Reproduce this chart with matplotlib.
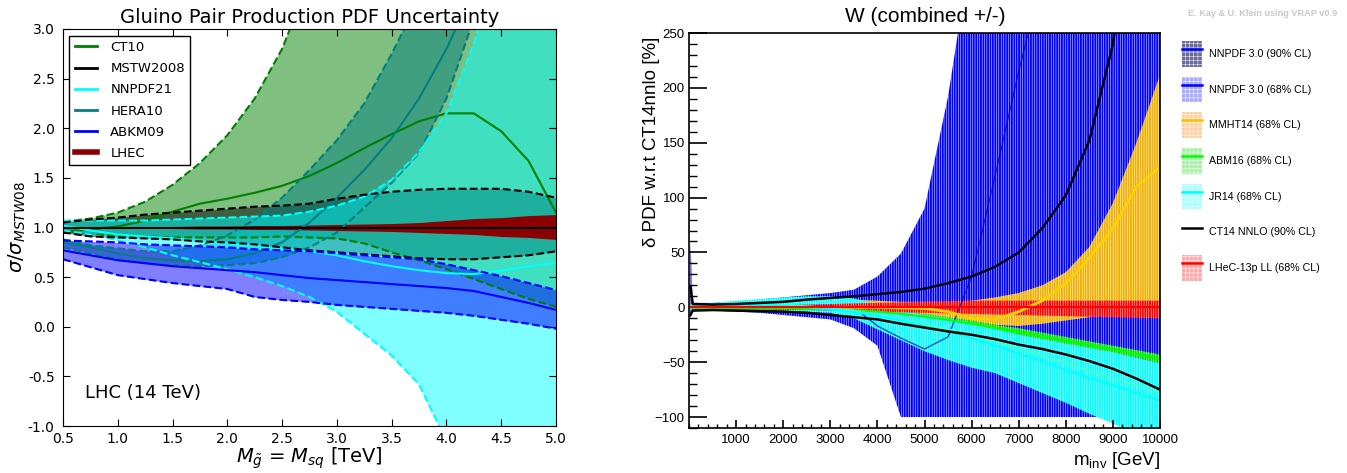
import numpy as np
import matplotlib
matplotlib.use("Agg")
import matplotlib.pyplot as plt
from matplotlib.patches import Patch
from matplotlib.lines import Line2D
from matplotlib.ticker import MultipleLocator, FormatStrFormatter

# ---------------- left panel: gluino pair production, ratio to MSTW2008 ----------------
mass = [0.5, 0.75, 1.0, 1.25, 1.5, 1.75, 2.0, 2.25, 2.5, 2.75,
        3.0, 3.25, 3.5, 3.75, 4.0, 4.25, 4.5, 4.75, 5.0]

ct10_c = [0.96, 0.98, 1.01, 1.07, 1.16, 1.24, 1.29, 1.35, 1.42, 1.52,
          1.65, 1.80, 1.94, 2.07, 2.15, 2.15, 1.97, 1.67, 1.15]
ct10_hi = [1.06, 1.09, 1.15, 1.26, 1.43, 1.65, 1.93, 2.30, 2.80, 3.50,
           4.30, 5.20, 6.20, 7.20, 8.20, 9.20, 10.2, 11.2, 12.2]
ct10_lo = [0.95, 0.93, 0.92, 0.91, 0.90, 0.90, 0.90, 0.90, 0.91, 0.90,
           0.89, 0.84, 0.75, 0.67, 0.58, 0.48, 0.38, 0.28, 0.20]

mstw_c = [1.0, 1.0, 1.0, 1.0, 1.0, 1.0, 1.0, 1.0, 1.0, 1.0,
          1.0, 1.0, 1.0, 1.0, 1.0, 1.0, 1.0, 1.0, 1.0]
mstw_hi = [1.05, 1.08, 1.10, 1.13, 1.15, 1.17, 1.19, 1.21, 1.22, 1.24,
           1.29, 1.33, 1.36, 1.38, 1.39, 1.39, 1.39, 1.36, 1.30]
mstw_lo = [0.95, 0.91, 0.90, 0.89, 0.88, 0.86, 0.85, 0.83, 0.80, 0.77,
           0.75, 0.73, 0.71, 0.69, 0.68, 0.68, 0.70, 0.72, 0.76]

nnpdf_c = [1.02, 0.97, 0.93, 0.91, 0.89, 0.865, 0.84, 0.815, 0.79, 0.76,
           0.72, 0.66, 0.61, 0.57, 0.54, 0.53, 0.565, 0.61, 0.645]
nnpdf_hi = [1.07, 1.07, 1.07, 1.07, 1.08, 1.09, 1.10, 1.11, 1.12, 1.16,
            1.22, 1.31, 1.48, 1.76, 2.15, 2.85, 3.80, 4.80, 6.00]
nnpdf_lo = [0.97, 0.93, 0.87, 0.80, 0.72, 0.65, 0.58, 0.50, 0.41, 0.30,
            0.15, -0.07, -0.29, -0.58, -1.15, -2.0, -3.0, -4.0, -5.0]

hera_c = [0.85, 0.80, 0.74, 0.69, 0.67, 0.66, 0.68, 0.74, 0.85, 1.05,
          1.30, 1.58, 1.90, 2.30, 2.80, 3.40, 4.00, 4.60, 5.20]
hera_hi = [0.88, 0.82, 0.79, 0.76, 0.76, 0.82, 0.92, 1.08, 1.30, 1.58,
           1.88, 2.25, 2.75, 3.30, 4.00, 4.80, 5.60, 6.40, 7.20]
hera_lo = [0.80, 0.74, 0.68, 0.64, 0.62, 0.61, 0.62, 0.64, 0.70, 0.80,
           0.95, 1.20, 1.45, 1.75, 2.30, 3.10, 4.00, 4.80, 5.60]

abkm_c = [0.77, 0.72, 0.67, 0.64, 0.61, 0.59, 0.57, 0.55, 0.52, 0.49,
          0.47, 0.45, 0.43, 0.41, 0.39, 0.36, 0.30, 0.24, 0.17]
abkm_hi = [0.87, 0.86, 0.85, 0.83, 0.82, 0.81, 0.80, 0.78, 0.77, 0.76,
           0.74, 0.72, 0.70, 0.68, 0.63, 0.57, 0.51, 0.44, 0.37]
abkm_lo = [0.68, 0.60, 0.52, 0.48, 0.44, 0.41, 0.38, 0.30, 0.27, 0.25,
           0.22, 0.20, 0.18, 0.16, 0.14, 0.11, 0.07, 0.03, -0.02]

lhec_hi = [1.01, 1.01, 1.01, 1.01, 1.01, 1.015, 1.015, 1.02, 1.02, 1.025,
           1.03, 1.035, 1.04, 1.05, 1.07, 1.09, 1.10, 1.12, 1.13]
lhec_lo = [0.99, 0.99, 0.99, 0.99, 0.99, 0.985, 0.985, 0.98, 0.98, 0.975,
           0.97, 0.965, 0.96, 0.95, 0.94, 0.93, 0.91, 0.90, 0.88]

# ---------------- right panel: W (combined +/-), deviation wrt CT14nnlo ----------------
m_inv = [30, 80, 500, 1000, 1500, 2000, 2500, 3000, 3500, 4000, 4500,
         5000, 5500, 6000, 6500, 7000, 7500, 8000, 8500, 9000, 9500, 10000]

nnpdf30_hi = [60, 4, 4, 5, 7, 9, 11, 13, 16, 28, 49,
              90, 192, 330, 420, 480, 520, 560, 600, 640, 680, 720]
nnpdf30_lo = [-10, -3, -3, -4, -5, -7, -9, -11, -19, -35, -100,
              -100, -100, -100, -100, -100, -100, -100, -100, -100, -100, -100]
nnpdf30_c = [0, 0, 0, 0, 0, 1, 1, 1, 0, -17, -28,
             -38, -27, 28, 120, 215, 300, 380, 450, 520, 590, 660]

mmht_hi = [1, 1, 2, 3, 4, 5, 6, 7, 7, 6, 5,
           5, 5, 6, 9, 13, 20, 32, 55, 95, 150, 212]
mmht_lo = [-1, -1, -1, -1, -1.5, -2, -2, -3, -3, -4, -5,
           -7, -10, -13, -16, -17, -15, -12, -9, -6, -4, -3]
mmht_c = [0, 0, 0, 0, 0, 0, 0, 0, 0, 0, -0.5,
          -1, -4, -10, -11, -4, 6, 22, 45, 72, 110, 128]

abm_hi = [0, 0, 0, 0, 0, 0, 0, 0, -1, -2, -4,
          -6, -9, -12, -16, -19, -23, -27, -31, -35, -39, -43]
abm_lo = [-1, -1, -1, -1.5, -2, -2, -3, -3, -4, -6, -8,
          -11, -14, -18, -22, -26, -30, -34, -38, -42, -46, -51]
abm_c = [-0.5, -0.5, -0.5, -0.7, -1, -1, -1.5, -1.5, -2.5, -4, -6,
         -8.5, -11.5, -15, -19, -22.5, -26.5, -30.5, -34.5, -38.5, -42.5, -47]

jr_hi = [3, 3, 4, 6, 7.5, 9, 10, 10, 8, 3, -3,
         -7, -10, -14, -20, -25, -29, -33, -37, -41, -46, -51]
jr_lo = [-2, -2, -2, -2, -2, -3, -4, -5, -10, -20, -30,
         -40, -48, -55, -60, -69, -78, -87, -97, -106, -116, -125]
jr_c1 = [0, 1, 1, 2, 2, 2, 1, -1, -3, -7, -11,
         -15, -20, -25, -31, -38, -44, -51, -58, -65, -71, -78]
jr_c2 = [0, 1, 1, 2, 2, 1, 0, -2, -4, -8, -12,
         -17, -22, -28, -35, -42, -49, -57, -64, -71, -78, -85]

ct14_hi = [19, 3, 2.5, 3, 4, 5, 7, 8.5, 10, 12, 14,
           17, 22, 28, 37, 50, 72, 102, 152, 240, 380, 520]
ct14_lo = [-7, -3, -2.5, -3, -3.5, -4, -5, -7, -9, -11, -15,
           -18.5, -22, -25, -29, -34, -38, -43, -49, -56, -65, -75]

lhec13_hi = [1, 1, 1.5, 1.5, 2, 2, 2.5, 3, 3.5, 4, 4.5,
             5, 5.5, 6, 6, 6, 6, 6, 6, 6, 6, 6]
lhec13_lo = [-1.5, -1.5, -1.5, -2, -2, -2.5, -2.5, -3, -3.5, -4, -4.5,
             -5, -5.5, -6, -6.5, -7, -7.5, -8, -8.5, -9, -9.5, -10]
lhec13_c = [0, 0, 0, 0, 0, 0, 0, 0, 0, 0, 0,
            0, 0, 0, 0, 0, 0, 0, 0, 0, 0, 0]

legend_labels = ["NNPDF 3.0 (90% CL)", "NNPDF 3.0 (68% CL)", "MMHT14 (68% CL)",
                 "ABM16 (68% CL)", "JR14 (68% CL)", "CT14 NNLO (90% CL)",
                 "LHeC-13p LL (68% CL)"]

plt.rcParams['hatch.color'] = 'white'
plt.rcParams['hatch.linewidth'] = 0.35

fig = plt.figure(figsize=(13.47, 4.73), dpi=100)

# ---------- left ----------
ax1 = fig.add_axes([63 / 1347, 47 / 473, 493 / 1347, 397 / 473])

ax1.fill_between(mass, ct10_lo, ct10_hi, color='green', alpha=0.5, lw=0)
ax1.fill_between(mass, mstw_lo, mstw_hi, color='black', alpha=0.5, lw=0)
ax1.fill_between(mass, hera_lo, hera_hi, color='teal', alpha=0.5, lw=0)
ax1.fill_between(mass, nnpdf_lo, nnpdf_hi, color='cyan', alpha=0.5, lw=0)
ax1.fill_between(mass, abkm_lo, abkm_hi, color='blue', alpha=0.5, lw=0)
ax1.fill_between(mass, lhec_lo, lhec_hi, color='darkred', lw=0)

for c, lo, hi, col in [(ct10_c, ct10_lo, ct10_hi, 'green'),
                       (hera_c, hera_lo, hera_hi, 'teal'),
                       (nnpdf_c, nnpdf_lo, nnpdf_hi, 'cyan'),
                       (mstw_c, mstw_lo, mstw_hi, 'black'),
                       (abkm_c, abkm_lo, abkm_hi, 'blue')]:
    ax1.plot(mass, c, color=col, lw=1.5)
    ax1.plot(mass, lo, color=col, lw=1.5, ls='--')
    ax1.plot(mass, hi, color=col, lw=1.5, ls='--')

ax1.set_xlim(0.5, 5.0)
ax1.set_ylim(-1.0, 3.0)
ax1.xaxis.set_major_locator(MultipleLocator(0.5))
ax1.yaxis.set_major_locator(MultipleLocator(0.5))
ax1.xaxis.set_major_formatter(FormatStrFormatter('%.1f'))
ax1.yaxis.set_major_formatter(FormatStrFormatter('%.1f'))
ax1.tick_params(direction='in', top=True, right=True, length=5, labelsize=10)
ax1.tick_params(axis='x', pad=4)
ax1.tick_params(axis='y', pad=6)
ax1.set_title("Gluino Pair Production PDF Uncertainty", fontsize=14, pad=4)
ax1.set_xlabel(r"$M_{\tilde{g}}$ = $M_{sq}$ [TeV]", fontsize=14, labelpad=0)
ax1.set_ylabel(r"$\sigma/\sigma_{MSTW08}$", fontsize=14, labelpad=0)
ax1.text(0.045, 0.07, "LHC (14 TeV)", transform=ax1.transAxes, fontsize=13)

left_handles = [Line2D([], [], color='green', lw=2),
                Line2D([], [], color='black', lw=2),
                Line2D([], [], color='cyan', lw=2),
                Line2D([], [], color='teal', lw=2),
                Line2D([], [], color='blue', lw=2),
                Line2D([], [], color='darkred', lw=4)]
leg1 = ax1.legend(left_handles, ["CT10", "MSTW2008", "NNPDF21", "HERA10", "ABKM09", "LHEC"],
                  loc='upper left', bbox_to_anchor=(0.013, 0.983), fontsize=9.5,
                  handlelength=1.7, handletextpad=1.0, labelspacing=0.62,
                  fancybox=False, framealpha=1, borderaxespad=0)
leg1.get_frame().set_edgecolor('black')

# ---------- right ----------
rfont = 'Liberation Sans'
ax2 = fig.add_axes([689 / 1347, 45 / 473, 471 / 1347, 395 / 473])

HATCH = '|' * 7
for lo, hi, col in [(nnpdf30_lo, nnpdf30_hi, '#0000ff'),
                    (mmht_lo, mmht_hi, '#f0b000'),
                    (abm_lo, abm_hi, '#00e000'),
                    (jr_lo, jr_hi, '#00ffff'),
                    (lhec13_lo, lhec13_hi, '#ff0000')]:
    ax2.fill_between(m_inv, lo, hi, facecolor=col, edgecolor='white', hatch=HATCH, linewidth=0)

ax2.plot(m_inv, nnpdf30_c, color='#0000b0', lw=1, alpha=0.7)
ax2.plot(m_inv, mmht_c, color='#ffd000', lw=2)
ax2.plot(m_inv, abm_c, color='#00ff00', lw=1.5)
ax2.plot(m_inv, jr_c1, color='#40ffd0', lw=1.5)
ax2.plot(m_inv, jr_c2, color='#00ffff', lw=1.5)
ax2.plot(m_inv, ct14_hi, color='black', lw=1.8)
ax2.plot(m_inv, ct14_lo, color='black', lw=1.8)
ax2.plot(m_inv, lhec13_c, color='#ff0000', lw=1.5)

ax2.set_xlim(0, 10000)
ax2.set_ylim(-110, 250)
ax2.set_xticks(range(1000, 10001, 1000))
ax2.xaxis.set_minor_locator(MultipleLocator(200))
ax2.yaxis.set_major_locator(MultipleLocator(50))
ax2.yaxis.set_minor_locator(MultipleLocator(10))
ax2.tick_params(axis='y', which='major', direction='in', length=13, width=1.2, labelsize=9.5,
                labelfontfamily=rfont, pad=3)
ax2.tick_params(axis='y', which='minor', direction='in', length=5.5, width=1)
ax2.tick_params(axis='x', which='major', direction='in', length=5.5, width=1.2, labelsize=9.5,
                labelfontfamily=rfont, pad=4)
ax2.tick_params(axis='x', which='minor', direction='in', length=3, width=1)
for s in ax2.spines.values():
    s.set_linewidth(1.2)

fig.text(925 / 1347, 1 - 17 / 473, "W (combined +/-)", fontsize=15, family=rfont,
         ha='center', va='center')
fig.text(652 / 1347, 1 - 37 / 473, "δ PDF w.r.t CT14nnlo [%]", fontsize=13.5, family=rfont,
         rotation=90, ha='center', va='top')
fig.text(1160 / 1347, 1 - 460 / 473, r"m$_{\mathregular{inv}}$ [GeV]", fontsize=13.5,
         family=rfont, ha='right', va='center')
fig.text(1188 / 1347, 1 - 13 / 473, "E. Kay & U. Klein using VRAP v0.9", fontsize=6.6,
         family=rfont, fontweight='bold', color='#c8c8c8', ha='left', va='center')

box_colors = ['#6a6a9c', '#aaaaff', '#ffd0a0', '#a8f0a8', '#a8ffff', None, '#ffaaaa']
line_colors = ['#0000ff', '#0000ff', '#ffc000', '#00ff00', '#00ffff', 'black', '#ff0000']
right_handles = []
for bc, lc in zip(box_colors, line_colors):
    ln = Line2D([], [], color=lc, lw=1.8)
    if bc is None:
        right_handles.append(ln)
    else:
        right_handles.append((Patch(facecolor=bc, edgecolor='white', hatch='++++', lw=0), ln))
fig.legend(right_handles, legend_labels, loc='upper left',
           bbox_to_anchor=(1182 / 1347, 1 - 41 / 473), frameon=False,
           prop={'family': rfont, 'size': 7.7}, handlelength=1.9, handleheight=3.3,
           labelspacing=0.95, handletextpad=0.6, borderpad=0, borderaxespad=0)

fig.savefig("out.png", dpi=100)
